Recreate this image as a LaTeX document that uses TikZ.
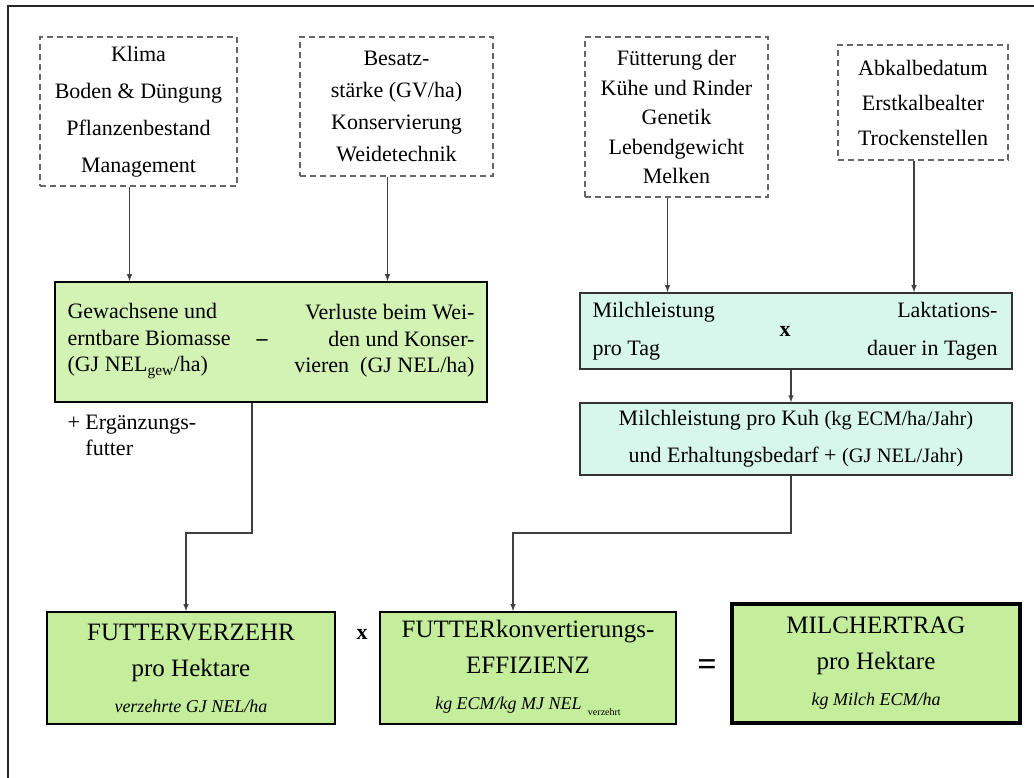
\documentclass[tikz,border=0pt]{standalone}
\usepackage{fontspec}
\setmainfont{Liberation Serif}
\usetikzlibrary{arrows}
\begin{document}
\begin{tikzpicture}[x=1pt,y=-1pt,
  einfluss/.style={draw=black!60,line width=1.2pt,dash pattern=on 6pt off 4pt,align=center,inner sep=0pt},
  rechnung/.style={draw=black!80,line width=1.5pt,inner sep=0pt,minimum width=432pt},
  ergebnis/.style={draw,line width=1.6pt,fill=futtergruen,align=center,inner sep=0pt,minimum height=112pt,font=\fontsize{25}{36}\selectfont},
  pfeil/.style={draw=black!75,line width=1.4pt,-latex},
  operator/.style={font=\bfseries\fontsize{22}{22}\selectfont,inner sep=0pt}]
  \definecolor{grasgruen}{HTML}{D2F3B4}
  \definecolor{futtergruen}{HTML}{C4EE9C}
  \definecolor{milchtuerkis}{HTML}{D8F7EC}
  \useasboundingbox (0,0) rectangle (1034,778);
  \draw [black!85,line width=2pt] (1034,6) -- (8,6) -- (8,778);

  \node [einfluss,minimum width=197pt,minimum height=149pt,font=\fontsize{22}{37}\selectfont] (klima) at (138.5,111.5)
   {Klima\\Boden \& Düngung\\Pflanzenbestand\\Management};
  \node [einfluss,minimum width=193pt,minimum height=139pt,font=\fontsize{22}{32}\selectfont] (besatz) at (396.5,106.5)
   {Besatz-\\stärke (GV/ha)\\Konservierung\\Weidetechnik};
  \node [einfluss,minimum width=183pt,minimum height=160pt,font=\fontsize{22}{29.5}\selectfont] (fuetterung) at (676.5,117)
   {Fütterung der\\Kühe und Rinder\\Genetik\\Lebendgewicht\\Melken};
  \node [einfluss,minimum width=170pt,minimum height=115pt,font=\fontsize{22}{35}\selectfont] (abkalbe) at (923,102.5)
   {Abkalbedatum\\Erstkalbealter\\Trockenstellen};

  \node [rechnung,fill=grasgruen,minimum height=120pt,draw=black] (biomasse) at (271,342) {};
  \node [anchor=west,align=left,font=\fontsize{22}{26.5}\selectfont] (gewachsen) at (64,341)
   {Gewachsene und\\erntbare Biomasse\\(GJ NEL\textsubscript{gew}/ha)};
  \node [operator] (minus) at (262,343) {--};
  \node [anchor=east,align=right,font=\fontsize{22}{26.5}\selectfont] (verluste) at (478,341)
   {Verluste beim Wei-\\den und Konser-\\vieren~~(GJ NEL/ha)};
  \node [anchor=west,align=left,font=\fontsize{22}{26}\selectfont] (ergaenzung) at (64,435)
   {+ Ergänzungs-\\\phantom{+ }futter};

  \node [rechnung,fill=milchtuerkis,minimum height=76pt] (leistung) at (796,331) {};
  \node [anchor=west,align=left,font=\fontsize{22}{38}\selectfont] (protag) at (589,331)
   {Milchleistung\\pro Tag};
  \node [operator] (mal1) at (785,331) {x};
  \node [anchor=east,align=right,font=\fontsize{22}{38}\selectfont] (laktation) at (1001,331)
   {Laktations-\\dauer in Tagen};
  \node [rechnung,fill=milchtuerkis,minimum height=72pt,align=center,font=\fontsize{22}{37}\selectfont] (milchkuh) at (796,439)
   {Milchleistung pro Kuh {\fontsize{20.5}{37}\selectfont(kg ECM/ha/Jahr)}\\und Erhaltungsbedarf + {\fontsize{20.5}{37}\selectfont(GJ NEL/Jahr)}};

  \node [ergebnis,minimum width=288pt] (verzehr) at (191,668)
   {FUTTERVERZEHR\\pro Hektare\\{\itshape\fontsize{18}{18}\selectfont verzehrte GJ NEL/ha}};
  \node [operator] (mal2) at (362,634) {x};
  \node [ergebnis,minimum width=296pt] (effizienz) at (528,668)
   {FUTTERkonvertierungs-\\EFFIZIENZ\\{\itshape\fontsize{18}{18}\selectfont kg ECM/kg MJ NEL}~\raisebox{-6pt}{\fontsize{10}{10}\selectfont verzehrt}};
  \node [operator,font=\bfseries\fontsize{34}{34}\selectfont] (gleich) at (707,668) {=};
  \node [ergebnis,minimum width=288pt,minimum height=119pt,line width=4pt] (milchertrag) at (876,663.5)
   {MILCHERTRAG\\pro Hektare\\{\itshape\fontsize{18}{18}\selectfont kg Milch ECM/ha}};

  \draw [pfeil] ([xshift=-9pt]klima.south) -- ([xshift=-9pt]klima.south |- biomasse.north);
  \draw [pfeil] ([xshift=-9pt]besatz.south) -- ([xshift=-9pt]besatz.south |- biomasse.north);
  \draw [pfeil] ([xshift=-9pt]fuetterung.south) -- ([xshift=-9pt]fuetterung.south |- leistung.north);
  \draw [pfeil] ([xshift=-9pt]abkalbe.south) -- ([xshift=-9pt]abkalbe.south |- leistung.north);
  \draw [pfeil] ([xshift=-5pt]leistung.south) -- ([xshift=-5pt]leistung.south |- milchkuh.north);
  \coordinate (knick1) at (252,533);
  \draw [pfeil] (biomasse.south -| knick1) -- (knick1) -| ([xshift=-5pt]verzehr.north);
  \coordinate (knick2) at (791,533);
  \draw [pfeil] (milchkuh.south -| knick2) -- (knick2) -| ([xshift=-15pt]effizienz.north);
\end{tikzpicture}
\end{document}
